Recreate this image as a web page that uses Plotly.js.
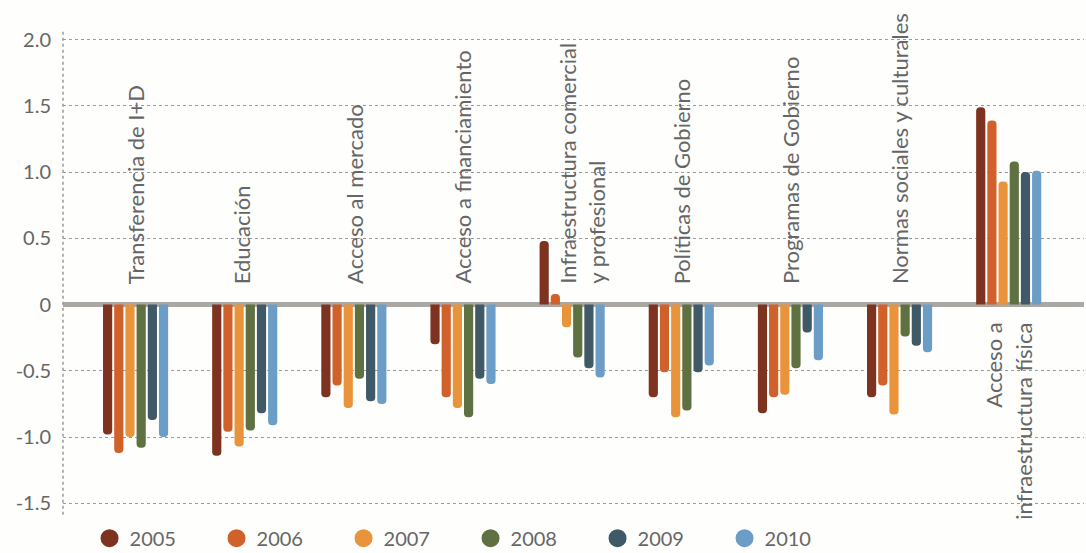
<!DOCTYPE html>
<html>
<head>
<meta charset="utf-8">
<script src="https://cdn.plot.ly/plotly-3.0.1.min.js"></script>
<style>
html,body{margin:0;padding:0;background:#fefefc;}
#chart{width:1086px;height:553px;}
</style>
</head>
<body>
<div id="chart"></div>
<script>
// ---- data ----
const categories = [
  "Transferencia de I+D",
  "Educación",
  "Acceso al mercado",
  "Acceso a financiamiento",
  "Infraestructura comercial<br>y profesional",
  "Políticas de Gobierno",
  "Programas de Gobierno",
  "Normas sociales y culturales",
  "Acceso a<br>infraestructura física"
];
const years = ["2005", "2006", "2007", "2008", "2009", "2010"];
const v2005 = [-0.98, -1.14, -0.70, -0.30,  0.48, -0.70, -0.82, -0.70, 1.49];
const v2006 = [-1.12, -0.96, -0.61, -0.70,  0.08, -0.51, -0.70, -0.61, 1.39];
const v2007 = [-1.00, -1.07, -0.78, -0.78, -0.17, -0.85, -0.68, -0.83, 0.93];
const v2008 = [-1.08, -0.95, -0.56, -0.85, -0.40, -0.80, -0.48, -0.24, 1.08];
const v2009 = [-0.87, -0.82, -0.73, -0.56, -0.48, -0.51, -0.21, -0.31, 1.00];
const v2010 = [-1.00, -0.91, -0.75, -0.60, -0.55, -0.46, -0.42, -0.36, 1.01];
const tickVals = [2.0, 1.5, 1.0, 0.5, 0, -0.5, -1.0, -1.5];
const tickText = ["2.0", "1.5", "1.0", "0.5", "0", "-0.5", "-1.0", "-1.5"];

// ---- style ----
const colors = ["#7e3321", "#d0612a", "#e9943b", "#5f7041", "#3f5967", "#6b9dc6"];
const series = [v2005, v2006, v2007, v2008, v2009, v2010];
const FONT = "Lato, 'Open Sans', sans-serif";
const textColor = "#666666";

const traces = [];
series.forEach((vals, i) => {
  traces.push({
    type: "bar",
    x: categories,
    y: vals,
    name: years[i],
    marker: {color: colors[i], cornerradius: "50%", line: {width: 0}},
    showlegend: false,
    legendgroup: years[i],
    hoverinfo: "x+y"
  });
});
series.forEach((vals, i) => {
  traces.push({
    type: "scatter",
    mode: "markers",
    x: [null], y: [null],
    name: years[i],
    legendgroup: years[i],
    marker: {color: colors[i], size: 16, symbol: "circle", line: {color: colors[i], width: 2}},
    showlegend: true
  });
});

// category labels as rotated annotations
const labelBelow = [false, false, false, false, false, false, false, false, true];
const lineShifts = [[0], [-3], [0], [0], [-5, 24], [0], [0], [0], [-16, 14]];
const annotations = [];
categories.forEach((c, ci) => {
  const lines = c.split("<br>");
  lines.forEach((ln, li) => {
    annotations.push({
      x: c, y: labelBelow[ci] ? -0.12 : 0.14,
      xref: "x", yref: "y",
      text: ln,
      textangle: -90,
      showarrow: false,
      xanchor: "center",
      yanchor: labelBelow[ci] ? "top" : "bottom",
      xshift: lineShifts[ci][li] || 0,
      font: {family: FONT, size: 22, color: textColor}
    });
  });
});

const layout = {
  width: 1086, height: 553,
  paper_bgcolor: "#fefefc",
  plot_bgcolor: "#fefefc",
  margin: {l: 63, r: 2, t: 29, b: 43, autoexpand: false},
  barmode: "group",
  bargap: 0.385,
  bargroupgap: 0.18,
  font: {family: FONT, color: textColor},
  xaxis: {
    type: "category",
    range: [-0.665, 8.69],
    showticklabels: false,
    showgrid: false,
    zeroline: false,
    showline: false,
    ticks: ""
  },
  yaxis: {
    range: [-1.55, 2.08],
    tickvals: tickVals,
    ticktext: tickText,
    tickfont: {family: FONT, size: 20, color: textColor},
    ticklabelstandoff: 11,
    showgrid: true,
    gridcolor: "#9a9a9a",
    griddash: "dot",
    gridwidth: 1,
    zeroline: true,
    zerolinecolor: "#aba7a3",
    zerolinewidth: 5,
    showline: false,
    ticks: ""
  },
  shapes: [{
    type: "line", xref: "paper", yref: "paper",
    x0: 0, x1: 0, y0: -0.01, y1: 1,
    line: {color: "#9a9a9a", width: 1.5, dash: "dot"}
  }],
  annotations: annotations,
  showlegend: true,
  legend: {
    orientation: "h",
    x: 0.026, xanchor: "left",
    y: -0.018, yanchor: "top",
    font: {family: FONT, size: 20, color: textColor},
    entrywidth: 82,
    bgcolor: "rgba(0,0,0,0)",
    traceorder: "normal"
  }
};

Plotly.newPlot("chart", traces, layout, {displayModeBar: false, staticPlot: true});
</script>
</body>
</html>
